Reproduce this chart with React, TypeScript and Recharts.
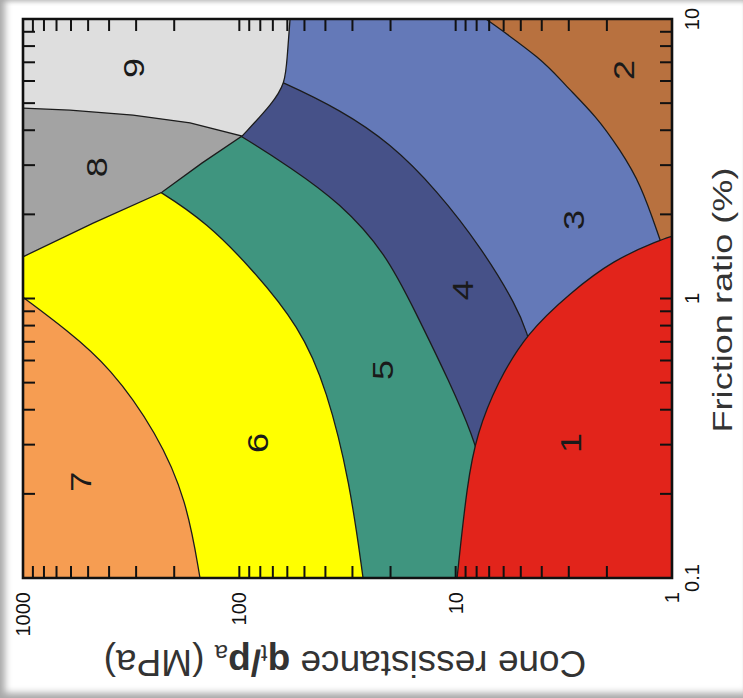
import { ComposedChart, Area, Line, Scatter, XAxis, YAxis } from "recharts";

// ---------------------------------------------------------------------------
// Ticks
// ---------------------------------------------------------------------------

const rfTicks = [0.1, 1, 10];
const qtTicks = [1, 10, 100, 1000];
const rfMinorTicks = [0.2, 0.3, 0.4, 0.5, 0.6, 0.7, 0.8, 0.9, 1, 2, 3, 4, 5, 6, 7, 8, 9];
const qtMinorTicks = [
  2, 3, 4, 5, 6, 7, 8, 9, 10, 20, 30, 40, 50, 60, 70, 80, 90, 100, 200, 300, 400, 500, 600,
  700, 800, 900,
];

// ---------------------------------------------------------------------------
// Zone boundaries: [friction ratio %, qt/pa]
// (points past a junction run on under the zone painted on top)
// ---------------------------------------------------------------------------

const plotEdge = [
  [0.1, 1000],
  [10, 1000],
];
const frameCorners = [
  [0.1, 1], [0.1, 1000], [10, 1000], [10, 1], [0.1, 1],
];
const edge76 = [
  [0.1, 152], [0.19, 175], [0.33, 240], [0.569, 396], [0.771, 627], [1.01, 1000],
];
const edge65 = [
  [0.1, 26.8], [0.219, 30.8], [0.471, 39.3], [0.791, 52.4], [1.3, 89.2], [1.86, 141], [2.4, 228],
  [3.0, 376], [3.54, 607], [4.07, 1000], [10, 1000],
];
const edge54 = [
  [0.19, 6.93], [0.243, 7.47], [0.32, 8.31], [0.498, 10.6], [0.9, 15.4], [1.45, 21], [2.2, 34.2],
  [2.95, 58.3], [3.81, 97.2], [4.72, 160], [5.57, 259], [6.46, 440], [7.25, 750], [7.62, 1000],
  [10, 1000],
];
const edge43 = [
  [0.471, 4.07], [0.603, 4.3], [0.753, 4.68], [0.932, 5.2], [1.49, 7.47], [2.44, 12.2], [3.6, 20.1],
  [4.73, 34.2], [5.9, 61.5], [7.13, 110], [8.28, 198], [9.13, 356], [9.75, 674], [10, 800],
];
const edge32 = [
  [1.62, 1.135], [2.59, 1.4], [3.4, 1.74], [4.46, 2.22], [5.9, 3.19], [7.13, 3.94], [10, 7.25],
];
const edge1 = [
  [0.1, 9.85], [0.219, 8.85], [0.33, 7.96], [0.498, 6.44], [0.753, 4.68], [1.046, 2.96],
  [1.373, 1.87], [1.62, 1.135], [1.67, 1.0],
];
const edge9 = [
  [3.81, 97.2], [5.01, 69.8], [5.9, 61.5], [7.13, 60.2], [10, 58.3],
];
const edge8 = [
  [1.41, 1000], [1.86, 474], [2.4, 228], [3.05, 149], [3.81, 97.2], [4.25, 169], [4.53, 310],
  [4.72, 607], [4.8, 1000],
];

const zoneLabels = [
  { rf: 0.304, q: 2.96, t: "1" },
  { rf: 6.57, q: 1.68, t: "2" },
  { rf: 1.91, q: 2.86, t: "3" },
  { rf: 1.07, q: 9.25, t: "4" },
  { rf: 0.555, q: 21.9, t: "5" },
  { rf: 0.304, q: 82.8, t: "6" },
  { rf: 0.221, q: 545, t: "7" },
  { rf: 2.95, q: 455, t: "8" },
  { rf: 6.68, q: 310, t: "9" },
];

const below = (pts: number[][]) => pts.map(([rf, q]) => ({ rf, q: [1, q] }));
const above = (pts: number[][]) => pts.map(([rf, q]) => ({ rf, q: [q, 1000] }));

// painted in this order, later zones cover the run-on parts of earlier ones
const zones = [
  { id: "6", color: "#FFFF00", rows: below(plotEdge), curve: "linear" },
  { id: "7", color: "#F69D52", rows: above(edge76), curve: "basis" },
  { id: "5", color: "#3F957F", rows: below(edge65), curve: "basis" },
  { id: "4", color: "#465188", rows: below(edge54), curve: "basis" },
  { id: "3", color: "#6479B8", rows: below(edge43), curve: "basis" },
  { id: "2", color: "#B8713F", rows: below(edge32), curve: "basis" },
  { id: "1", color: "#E2241B", rows: below(edge1), curve: "basis" },
  { id: "9", color: "#DEDEDE", rows: above(edge9), curve: "basis" },
  { id: "8", color: "#A3A3A3", rows: above(edge8), curve: "linear" },
] as const;

// inward tick marks on all four sides of the frame
const tickMarks = [
  ...rfMinorTicks.map((rf) => ({ rf, q: 1, side: "b" })),
  ...rfMinorTicks.map((rf) => ({ rf, q: 1000, side: "t" })),
  ...qtMinorTicks.map((q) => ({ rf: 0.1, q, side: "l" })),
  ...qtMinorTicks.map((q) => ({ rf: 10, q, side: "r" })),
];

const FONT = '"Liberation Sans", Arial, sans-serif';
const fmt = (v: number) => String(v);

function RfTitle() {
  return (
    <text
      x={398}
      y={722}
      textAnchor="middle"
      dominantBaseline="central"
      fontSize={28}
      textLength={265}
      lengthAdjust="spacingAndGlyphs"
      fill="#333"
      fontFamily={FONT}
    >
      Friction ratio (%)
    </text>
  );
}

function QtTitle() {
  return (
    <text
      x={35}
      y={345}
      transform="rotate(-90 35 345)"
      textAnchor="middle"
      dominantBaseline="central"
      fontSize={37}
      fill="#333"
      fontFamily={FONT}
    >
      {"Cone ressistance "}
      <tspan fontWeight="bold">q</tspan>
      <tspan fontSize={24} dy={9}>t</tspan>
      <tspan dy={-9} fontWeight="bold">/p</tspan>
      <tspan fontSize={24} dy={9}>a</tspan>
      <tspan dy={-9}>{" (MPa)"}</tspan>
    </text>
  );
}

function ZoneLabel(props: any) {
  const { cx, cy, payload } = props;
  return (
    <text
      x={cx}
      y={cy}
      textAnchor="middle"
      dominantBaseline="central"
      fontSize={30}
      textLength={20}
      lengthAdjust="spacingAndGlyphs"
      fill="#1a1a1a"
      fontFamily={FONT}
    >
      {payload.t}
    </text>
  );
}

function TickMark(props: any) {
  const { cx, cy, payload } = props;
  const len = 12;
  const dir: Record<string, [number, number]> = { b: [0, -len], t: [0, len], l: [len, 0], r: [-len, 0] };
  const [dx, dy] = dir[payload.side];
  return <line x1={cx} y1={cy} x2={cx + dx} y2={cy + dy} stroke="#111" strokeWidth={2} />;
}

export default function App() {
  return (
    <div
      style={{
        position: "absolute",
        left: 0,
        top: 0,
        width: 743,
        height: 698,
        overflow: "hidden",
        background: "#fff",
        boxShadow:
          "inset 10px 0 7px -5px #a9a9a9, inset 0 -10px 7px -5px #a9a9a9, inset 0 5px 4px -3px #c2c2c2",
      }}
    >
      {/* chart is laid out upright, then turned a quarter turn left like the scan */}
      <div
        style={{
          position: "absolute",
          left: 0,
          top: 0,
          width: 698,
          height: 743,
          transformOrigin: "0 0",
          transform: "translateY(698px) rotate(-90deg)",
        }}
      >
        <ComposedChart width={698} height={743} margin={{ top: 23, right: 19, bottom: 0, left: 0 }} style={{ fontFamily: FONT }}>
          <XAxis
            dataKey="rf"
            type="number"
            scale="log"
            domain={[0.1, 10]}
            allowDataOverflow
            ticks={rfTicks}
            tickFormatter={fmt}
            tickLine={false}
            axisLine={false}
            height={71}
            tickSize={6}
            tickMargin={7}
            tick={{ fill: "#111", fontSize: 20 }}
            label={<RfTitle />}
          />
          <YAxis
            type="number"
            scale="log"
            domain={[1, 1000]}
            allowDataOverflow
            ticks={qtTicks}
            tickFormatter={fmt}
            tickLine={false}
            axisLine={false}
            width={120}
            tickSize={6}
            tickMargin={8}
            tick={{ fill: "#111", fontSize: 20 }}
            label={<QtTitle />}
          />
          {/* unclipped twin scales for the frame, tick marks and zone numbers */}
          <XAxis xAxisId="free" dataKey="rf" type="number" scale="log" domain={[0.1, 10]} hide />
          <YAxis yAxisId="free" type="number" scale="log" domain={[1, 1000]} hide />

          {zones.map((z) => (
            <Area
              key={z.id}
              data={z.rows}
              dataKey="q"
              type={z.curve}
              fill={z.color}
              fillOpacity={1}
              stroke={z.id === "6" ? "none" : "#1c1c1c"}
              strokeWidth={1.3}
              dot={false}
              activeDot={false}
              isAnimationActive={false}
            />
          ))}

          <Scatter
            xAxisId="free"
            yAxisId="free"
            data={zoneLabels}
            dataKey="q"
            shape={<ZoneLabel />}
            isAnimationActive={false}
          />
          <Scatter
            xAxisId="free"
            yAxisId="free"
            data={tickMarks}
            dataKey="q"
            shape={<TickMark />}
            isAnimationActive={false}
          />
          <Line
            xAxisId="free"
            yAxisId="free"
            data={frameCorners.map(([rf, q]) => ({ rf, q }))}
            dataKey="q"
            type="linear"
            stroke="#111"
            strokeWidth={2.6}
            strokeLinecap="square"
            dot={false}
            activeDot={false}
            isAnimationActive={false}
          />
        </ComposedChart>
      </div>
    </div>
  );
}
